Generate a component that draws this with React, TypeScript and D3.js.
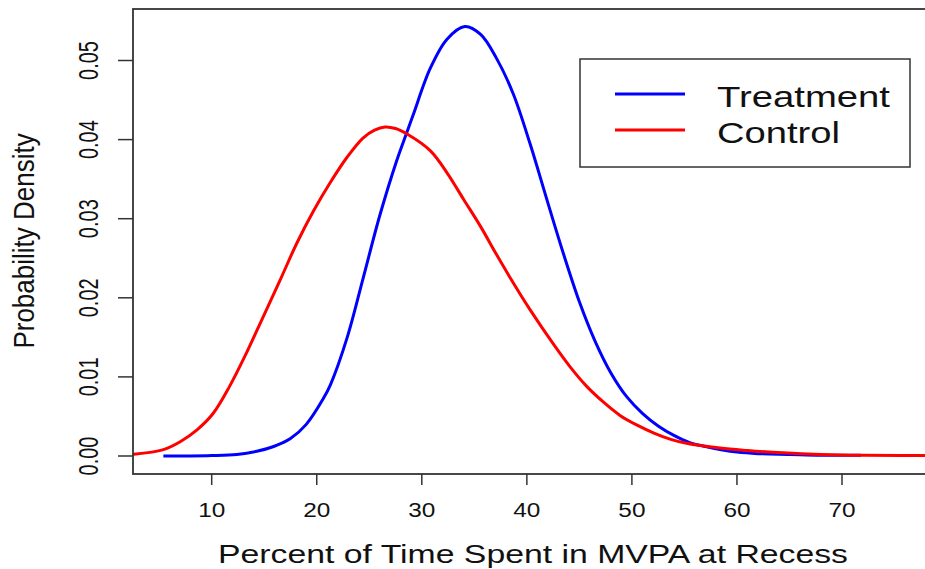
import React from "react";
import { scaleLinear, line, curveCatmullRom } from "d3";

const width = 925;
const height = 569;

// density curves
const treatmentPct = [5.4, 8, 10, 12.4, 14.3, 15.9, 17.5, 19.0, 20.6, 21.3, 22.9, 24.4, 26.0, 27.6, 28.6, 29.2, 30.8, 32.4, 34.1, 35.6, 37.1, 38.7, 40.3, 42.0, 43.5, 45.0, 46.5, 48.0, 49.5, 51.0, 52.5, 54.0, 55.5, 57.0, 58.5, 60, 62, 65, 68, 71.8];
const treatmentDensity = [0, 0, 0.00005, 0.0002, 0.0006, 0.0012, 0.0022, 0.004, 0.0072, 0.009, 0.015, 0.0224, 0.0304, 0.0373, 0.041, 0.0432, 0.049, 0.0527, 0.0543, 0.0533, 0.0503, 0.0458, 0.0395, 0.032, 0.0255, 0.0195, 0.0145, 0.0105, 0.0075, 0.0054, 0.0038, 0.0026, 0.0017, 0.0012, 0.0008, 0.0005, 0.0003, 0.0002, 0.0001, 0.0001];

const controlPct = [0, 2.5, 5.4, 7.0, 8.6, 10.15, 11.7, 13.3, 14.9, 16.5, 18.1, 19.7, 21.3, 22.9, 24.4, 25.5, 26.5, 27.5, 28.6, 30.8, 32.4, 34.0, 35.6, 37.1, 38.7, 40.3, 42.5, 44.1, 45.7, 47.3, 48.9, 50.5, 52.1, 53.7, 55.2, 58.4, 61, 64.4, 68, 72, 80];
const controlDensity = [0.00005, 0.0002, 0.0008, 0.0018, 0.0033, 0.0054, 0.0088, 0.013, 0.0176, 0.0222, 0.0269, 0.031, 0.0346, 0.0378, 0.0402, 0.0412, 0.0416, 0.0414, 0.0407, 0.0386, 0.0358, 0.0324, 0.029, 0.0255, 0.0219, 0.0185, 0.0142, 0.0113, 0.0088, 0.0068, 0.0051, 0.0039, 0.0029, 0.0021, 0.0016, 0.001, 0.0007, 0.0004, 0.0002, 0.0001, 0.00005];

const xTicks = [10, 20, 30, 40, 50, 60, 70];
const yTicks = [0, 0.01, 0.02, 0.03, 0.04, 0.05];
const yTickLabels = ["0.00", "0.01", "0.02", "0.03", "0.04", "0.05"];

const seriesNames = ["Treatment", "Control"];
const seriesColors = ["#0000ff", "#ff0000"];

const font = "'Liberation Sans', Arial, Helvetica, sans-serif";

const App = () => {
    const box = { left: 133, top: 9, right: 940, bottom: 474 };

    // scales
    const xScale = scaleLinear().domain([10, 70]).range([211.7, 842]);
    const yScale = scaleLinear().domain([0, 0.05]).range([456, 60.5]);

    const makePath = (xs: number[], ys: number[]) =>
        line<number>()
            .x(i => xScale(xs[i]))
            .y(i => yScale(ys[i]))
            .curve(curveCatmullRom.alpha(0.5))(xs.map((_, i) => i)) || "";

    const curves = [
        makePath(treatmentPct, treatmentDensity),
        makePath(controlPct, controlDensity),
    ];

    const xAxis = xTicks.map(t => (
        <g key={t}>
            <line x1={xScale(t)} x2={xScale(t)} y1={box.bottom} y2={box.bottom + 11} stroke="#333" strokeWidth={1.5} />
            <text
                transform={`translate(${xScale(t)},517) scale(1.25,1)`}
                textAnchor="middle"
                fontSize={19.5}
                fill="#111"
            >{t}</text>
        </g>
    ));

    const yAxis = yTicks.map((t, i) => (
        <g key={t}>
            <line x1={box.left - 15} x2={box.left} y1={yScale(t)} y2={yScale(t)} stroke="#333" strokeWidth={1.5} />
            <text
                transform={`translate(98,${yScale(t)}) scale(1.4,1) rotate(-90)`}
                textAnchor="middle"
                fontSize={20}
                fill="#111"
            >{yTickLabels[i]}</text>
        </g>
    ));

    const legendRows = [94, 130];
    const legendBase = [107, 143];
    const legendLen = [173, 123];

    return (
        <svg width={width} height={height} viewBox={`0 0 ${width} ${height}`}
            style={{ position: "absolute", left: 0, top: 0, background: "#fff", fontFamily: font }}>
            <defs>
                <clipPath id="plot-area">
                    <rect x={box.left} y={box.top} width={box.right - box.left} height={box.bottom - box.top} />
                </clipPath>
            </defs>
            <g clipPath="url(#plot-area)">
                {curves.map((d, i) => (
                    <path key={i} d={d} fill="none" stroke={seriesColors[i]} strokeWidth={3} strokeLinejoin="round" />
                ))}
            </g>
            <rect x={box.left} y={box.top} width={box.right - box.left} height={box.bottom - box.top}
                fill="none" stroke="#333" strokeWidth={1.8} />
            {xAxis}
            {yAxis}
            <text
                x={218} y={563}
                fontSize={25}
                textLength={630}
                lengthAdjust="spacingAndGlyphs"
                fill="#111"
            >Percent of Time Spent in MVPA at Recess</text>
            <text
                transform="translate(34,241) scale(1.12,1) rotate(-90)"
                textAnchor="middle"
                fontSize={26}
                fill="#111"
            >Probability Density</text>
            <rect x={580} y={59} width={330} height={108} fill="#fff" stroke="#333" strokeWidth={1.5} />
            {seriesNames.map((name, i) => (
                <g key={name}>
                    <line x1={615} x2={685} y1={legendRows[i]} y2={legendRows[i]} stroke={seriesColors[i]} strokeWidth={3} />
                    <text x={717} y={legendBase[i]} fontSize={30} textLength={legendLen[i]}
                        lengthAdjust="spacingAndGlyphs" fill="#111">{name}</text>
                </g>
            ))}
        </svg>
    );
};

export default App;
